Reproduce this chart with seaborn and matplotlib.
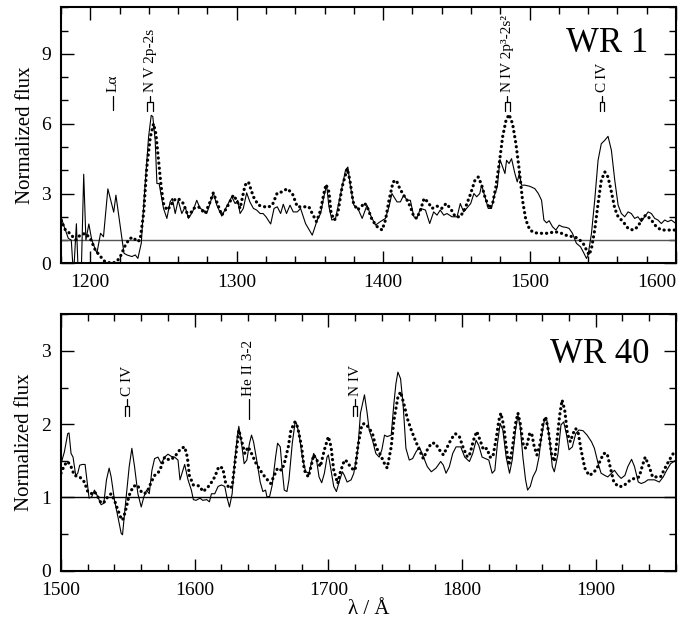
import numpy as np
import pandas as pd
import matplotlib
matplotlib.use("Agg")
import matplotlib.pyplot as plt
from matplotlib.ticker import MultipleLocator
import seaborn as sns

# ---------------- data ----------------
wr1_obs_wave = [1180, 1182, 1185, 1187, 1188, 1189, 1190.5, 1191.5, 1194, 1195.5, 1197, 1199, 1201, 1204.5,
                1207, 1209, 1212, 1216, 1217.5, 1220.5, 1223, 1225, 1228.4, 1230.7, 1232.5, 1234.8, 1237,
                1239.8, 1241.6, 1242.7, 1244.3, 1245.5, 1247, 1250, 1252.3, 1254.5, 1256, 1258, 1260, 1262.5,
                1264.8, 1267, 1269.8, 1272.7, 1275, 1277.3, 1279.5, 1281.8, 1284, 1286.4, 1289.8, 1293, 1296.6,
                1298.9, 1300.7, 1302.3, 1304.5, 1306.8, 1309, 1311.4, 1313.6, 1316, 1318, 1320, 1323.2, 1325.5,
                1327.7, 1330, 1331.8, 1334, 1336.4, 1338.6, 1341.4, 1343.6, 1347, 1351.6, 1355, 1357.3, 1359.5,
                1361.4, 1363, 1365, 1367.5, 1371, 1374.3, 1375.9, 1377.7, 1380, 1382.7, 1385.7, 1389, 1391.4,
                1394.8, 1398, 1401.6, 1404, 1406, 1409.5, 1411.8, 1414, 1416.4, 1418.6, 1421, 1423, 1425.5,
                1428.9, 1431.8, 1434.5, 1436.8, 1439, 1441.4, 1443.6, 1447, 1450.5, 1452.7, 1455, 1459.8, 1462,
                1463.9, 1466, 1467.3, 1469.5, 1471.8, 1474, 1475.7, 1478, 1479.8, 1481.6, 1483.2, 1484.3, 1486,
                1487.7, 1490, 1491.6, 1493, 1494.5, 1496.8, 1500.2, 1503.6, 1506, 1508.2, 1509.8, 1511.6, 1513.4,
                1515.7, 1518, 1520.2, 1522.5, 1525.2, 1527, 1529.3, 1532, 1534.8, 1536.6, 1538.9, 1540, 1542.3,
                1544.5, 1546.8, 1549, 1551.4, 1553.6, 1555.9, 1558.2, 1560.5, 1562.7, 1565, 1567.3, 1569.5,
                1571.8, 1574, 1576.4, 1578.6, 1581, 1583.2, 1585.5, 1587.7, 1590, 1592.3, 1594.5, 1596.8, 1600]
wr1_obs_flux = [2.0, 1.6, 1.07, 1.0, 0.0, 0.0, 1.7, 0.0, 0.0, 3.83, 1.0, 1.69, 1.0, 0.43,
                1.29, 1.14, 3.2, 2.2, 2.93, 1.57, 0.43, 0.36, 0.29, 0.36, 0.21, 0.86, 3.0,
                5.43, 6.36, 6.31, 5.29, 3.43, 3.43, 2.36, 1.93, 2.64, 2.79, 2.14, 2.71, 2.14,
                2.43, 1.93, 2.2, 2.71, 2.36, 2.29, 2.14, 2.57, 3.03, 2.5, 2.03, 2.43, 2.86,
                2.57, 2.71, 2.14, 2.36, 3.03, 2.64, 2.36, 2.29, 2.14, 2.14, 2.0, 1.69, 2.36,
                2.43, 2.14, 2.54, 2.14, 2.5, 2.21, 2.21, 2.36, 1.71, 1.21, 1.86, 2.14, 2.86,
                3.36, 2.43, 1.86, 1.93, 3.0, 4.0, 4.14, 3.29, 2.5, 2.36, 1.93, 2.5, 2.07,
                1.64, 1.79, 1.93, 2.43, 3.0, 2.64, 2.64, 2.93, 2.71, 2.71, 2.0, 1.93, 2.36,
                2.29, 1.71, 2.21, 2.07, 2.29, 2.07, 2.14, 2.0, 2.0, 2.57, 2.21, 2.57, 3.0,
                2.86, 3.0, 3.36, 2.86, 2.36, 2.36, 2.86, 3.29, 4.46, 4.14, 3.86, 4.43, 4.29,
                4.5, 3.86, 3.5, 3.86, 3.36, 3.36, 3.31, 3.21, 3.0, 2.71, 1.86, 1.74, 1.83,
                1.57, 1.43, 1.64, 1.57, 1.54, 1.5, 1.29, 0.86, 0.71, 0.5, 0.21, 0.36, 1.29,
                2.71, 4.43, 5.14, 5.29, 5.46, 4.86, 3.57, 2.5, 2.14, 2.0, 2.21, 2.14,
                1.93, 2.0, 1.79, 2.0, 2.21, 2.14, 1.93, 1.86, 1.71, 1.86, 1.79, 1.86, 1.71]

wr1_mod_wave = [1180, 1183, 1186, 1190, 1193, 1196.6, 1200, 1203.4, 1207, 1210, 1214.8, 1218, 1220.5, 1224,
                1227, 1229.5, 1231.8, 1234, 1236.4, 1238.6, 1241, 1243.2, 1244.8, 1246.6, 1248.4, 1250, 1252.3,
                1254.5, 1256.8, 1260, 1263.6, 1267, 1270.5, 1273.9, 1278.4, 1281.8, 1284, 1286.4, 1289.8, 1293,
                1297.7, 1300, 1302.3, 1305.7, 1308, 1311.4, 1314.8, 1319, 1321, 1324.3, 1327.7, 1331, 1334.5,
                1338, 1341.4, 1346, 1349.3, 1351.6, 1354.5, 1357.3, 1359.5, 1361, 1363, 1364.5, 1366.8, 1369,
                1372, 1375.5, 1377.3, 1379.5, 1382.3, 1385, 1387.3, 1389.5, 1392.5, 1396, 1399.3, 1401.6, 1404,
                1406.8, 1409, 1411.4, 1414, 1416.4, 1418.6, 1421, 1423, 1425.5, 1428, 1430.5, 1433.4, 1436.8,
                1440, 1443, 1446, 1449.3, 1452.7, 1456, 1459.8, 1462.7, 1465, 1467.3, 1469.5, 1472.5, 1474.8,
                1477, 1479.3, 1481.6, 1483.9, 1486, 1488.4, 1490.7, 1493, 1495.2, 1497.5, 1500.2, 1503.6,
                1508.2, 1512.7, 1517.3, 1521.8, 1526.4, 1531, 1534.3, 1536.6, 1538.9, 1540.7, 1542.3, 1544.5,
                1546.8, 1549, 1551.4, 1553.6, 1555.9, 1558.2, 1560.5, 1563.9, 1567.3, 1570.7, 1574, 1577.5,
                1579.8, 1583.2, 1586.6, 1590, 1593.4, 1600]
wr1_mod_flux = [1.86, 1.43, 1.29, 1.0, 1.21, 1.29, 1.07, 0.57, 0.29, 0.07, 0.0, 0.07, 0.29, 0.79,
                1.07, 1.11, 0.93, 1.0, 2.14, 4.14, 5.43, 6.0, 5.57, 4.43, 3.29, 2.57, 2.29,
                2.43, 2.71, 2.79, 2.57, 2.0, 2.36, 2.43, 2.14, 2.64, 3.03, 2.64, 2.07, 2.36,
                2.93, 2.71, 2.36, 3.36, 3.5, 2.86, 2.5, 2.43, 2.4, 2.5, 3.03, 3.07, 3.21,
                3.0, 2.43, 2.43, 2.43, 2.14, 1.79, 2.29, 3.0, 3.39, 3.07, 2.14, 1.86, 2.14,
                3.29, 4.07, 3.57, 2.64, 2.29, 2.43, 2.6, 2.36, 1.86, 1.57, 1.43, 1.86, 2.71,
                3.5, 3.57, 3.21, 2.93, 2.71, 2.43, 2.0, 1.93, 2.29, 2.79, 2.64, 2.36, 2.46,
                2.36, 2.57, 2.36, 2.0, 2.0, 2.36, 3.0, 3.57, 3.71, 3.36, 2.86, 2.36, 2.57,
                3.29, 4.29, 5.43, 6.14, 6.4, 6.0, 5.14, 4.0, 2.71, 1.86, 1.43, 1.31,
                1.29, 1.29, 1.36, 1.29, 1.17, 1.14, 1.0, 0.86, 0.57, 0.36, 0.64, 1.43,
                2.57, 3.57, 3.93, 3.71, 3.07, 2.36, 2.0, 1.79, 1.5, 1.43, 1.57, 2.0,
                2.07, 1.86, 1.57, 1.43, 1.43, 1.43]

wr40_obs_wave = [1500, 1502.5, 1505, 1506, 1507.5, 1509, 1511, 1512.5, 1514, 1516, 1518, 1520, 1521, 1523,
                 1525, 1527.5, 1530, 1532, 1534, 1536, 1537.5, 1540, 1542.5, 1545, 1546, 1548, 1551, 1553,
                 1555, 1557.5, 1560, 1562, 1564, 1566, 1568, 1570, 1572.5, 1575, 1577.5, 1580, 1582.5, 1585,
                 1587.5, 1589, 1592.5, 1595, 1597.5, 1599, 1601, 1604, 1606, 1609, 1611, 1612.5, 1615, 1617.5,
                 1620, 1622.5, 1624, 1626, 1628, 1630, 1632, 1633, 1635, 1637, 1639, 1641, 1642.5, 1644, 1646,
                 1649, 1651, 1653, 1654, 1656, 1658, 1660.5, 1662, 1664, 1665.5, 1667, 1669, 1670.5, 1673,
                 1675, 1676, 1678, 1680.5, 1683, 1685.5, 1688, 1689, 1691, 1693, 1695, 1697, 1699, 1700, 1702,
                 1704, 1706, 1708, 1710.5, 1712, 1714, 1717, 1719, 1722, 1724, 1727, 1729, 1730.5, 1733,
                 1735.5, 1738, 1740, 1742, 1744, 1747, 1749, 1750.5, 1752, 1754, 1756, 1758, 1760.5, 1763,
                 1765.5, 1768, 1770.5, 1774, 1777, 1780.5, 1784, 1786, 1788, 1790.5, 1793, 1795.5, 1799, 1802,
                 1805.5, 1808, 1810.5, 1812.5, 1815, 1817.5, 1820, 1822.5, 1824.5, 1826.5, 1828.5, 1830.5,
                 1833, 1835.5, 1837.5, 1840, 1841.8, 1843.5, 1845.5, 1847.5, 1849, 1851, 1853, 1855.5, 1857.5,
                 1859, 1861.8, 1863.5, 1865.5, 1867.5, 1869, 1871.8, 1874, 1876, 1878, 1880, 1882.5, 1885,
                 1887.5, 1890.5, 1893.5, 1896.8, 1899, 1901.8, 1904, 1906.8, 1909, 1911.8, 1914, 1916.8, 1919,
                 1921.8, 1924, 1926.8, 1929, 1931.8, 1934, 1936.8, 1939, 1941.8, 1944, 1947.5, 1950.5, 1953,
                 1956, 1960]
wr40_obs_flux = [1.46, 1.62, 1.87, 1.88, 1.6, 1.55, 1.3, 1.33, 1.44, 1.45, 1.45, 1.15, 0.99, 1.01,
                 1.1, 1.01, 0.9, 0.92, 1.24, 1.4, 1.28, 0.96, 0.74, 0.51, 0.49, 0.87, 1.42, 1.67,
                 1.42, 1.05, 0.87, 1.01, 1.1, 1.05, 1.37, 1.53, 1.55, 1.46, 1.55, 1.59, 1.56, 1.55,
                 1.51, 1.24, 1.45, 1.24, 1.1, 0.97, 0.96, 0.99, 0.96, 0.97, 0.94, 1.05, 1.05, 1.15,
                 1.17, 1.15, 1.01, 0.87, 1.05, 1.51, 1.85, 1.97, 1.74, 1.46, 1.51, 1.74, 1.85, 1.76, 1.55,
                 1.21, 1.08, 1.1, 1.01, 1.01, 1.17, 1.55, 1.74, 1.69, 1.37, 1.1, 1.08, 1.24, 1.74,
                 2.01, 2.02, 1.87, 1.55, 1.35, 1.33, 1.53, 1.6, 1.53, 1.28, 1.2, 1.33, 1.55, 1.58, 1.37,
                 1.15, 1.08, 1.21, 1.35, 1.3, 1.21, 1.24, 1.33, 1.65, 2.15, 2.4, 2.15, 1.92, 1.78,
                 1.6, 1.55, 1.65, 1.85, 1.83, 1.85, 2.28, 2.55, 2.71, 2.62, 2.24, 1.67, 1.51, 1.53,
                 1.62, 1.69, 1.58, 1.42, 1.35, 1.4, 1.49, 1.44, 1.33, 1.42, 1.6, 1.69, 1.69, 1.55,
                 1.49, 1.6, 1.78, 1.71, 1.55, 1.53, 1.51, 1.33, 1.37, 1.74, 2.01, 1.92,
                 1.55, 1.33, 1.51, 1.92, 2.12, 1.96, 1.55, 1.24, 1.1, 1.15, 1.28, 1.37, 1.55,
                 1.78, 2.08, 2.05, 1.78, 1.42, 1.35, 1.6, 1.99, 2.03, 1.87, 1.65, 1.69, 1.87,
                 1.92, 1.91, 1.85, 1.76, 1.67, 1.46, 1.33, 1.3, 1.28, 1.33, 1.37, 1.3, 1.26,
                 1.3, 1.42, 1.52, 1.42, 1.21, 1.19, 1.21, 1.24, 1.24, 1.24, 1.21, 1.28, 1.37,
                 1.46, 1.51]

wr40_mod_wave = [1500, 1502.5, 1505, 1507.5, 1510, 1514, 1517.5, 1520, 1522.5, 1525, 1527.5, 1530, 1532.5,
                 1535, 1537.5, 1540, 1542.5, 1545, 1546, 1548, 1551, 1554, 1557, 1560, 1562.5, 1565, 1567.5,
                 1570, 1572.5, 1575, 1577.5, 1581, 1585, 1587.5, 1590, 1592.5, 1594.5, 1596, 1599, 1601, 1604,
                 1606, 1609, 1612, 1615, 1618, 1621, 1623, 1626, 1628, 1630, 1632, 1633, 1635, 1637.5, 1640,
                 1642.5, 1646, 1649, 1652.5, 1656.8, 1659, 1662, 1665, 1667, 1670, 1672, 1675, 1677, 1680,
                 1682, 1685, 1687, 1689, 1692, 1694, 1697, 1700, 1702, 1704, 1707, 1709, 1712, 1714, 1717,
                 1720, 1722, 1725, 1727, 1730, 1733, 1735.5, 1739, 1742, 1744, 1747, 1749, 1752, 1754, 1757,
                 1759, 1762, 1765, 1768, 1771, 1774, 1777, 1780, 1783, 1786, 1789, 1792, 1795, 1798, 1801,
                 1804, 1806, 1808.5, 1811, 1813.5, 1816, 1818.5, 1821, 1823, 1825.5, 1827.5, 1829, 1831, 1833,
                 1835, 1837.5, 1840, 1841.8, 1843.5, 1846, 1848, 1850.5, 1852, 1854, 1856, 1858.5, 1860.5,
                 1862.5, 1864.5, 1866.8, 1869, 1871, 1873, 1874.8, 1876.8, 1878.8, 1881, 1883, 1885, 1887,
                 1889, 1891.8, 1895, 1898, 1901, 1903.5, 1906, 1908.5, 1911, 1913.5, 1916.8, 1920, 1923, 1926,
                 1929, 1932.5, 1935, 1937, 1940, 1942.5, 1948.5, 1951.8, 1955, 1958, 1960]
wr40_mod_flux = [1.33, 1.44, 1.49, 1.42, 1.3, 1.28, 1.21, 1.08, 1.05, 1.08, 1.01, 0.92, 0.94,
                 1.01, 1.05, 0.96, 0.83, 0.71, 0.69, 0.8, 1.03, 1.15, 1.17, 1.08, 1.05, 1.1, 1.21,
                 1.3, 1.33, 1.42, 1.55, 1.51, 1.55, 1.62, 1.67, 1.69, 1.55, 1.3, 1.17, 1.17, 1.15,
                 1.08, 1.12, 1.19, 1.28, 1.42, 1.4, 1.21, 1.12, 1.15, 1.46, 1.78, 1.92, 1.78, 1.6, 1.69,
                 1.6, 1.46, 1.37, 1.28, 1.19, 1.28, 1.4, 1.37, 1.46, 1.69, 1.92, 2.03, 1.96, 1.69,
                 1.37, 1.28, 1.42, 1.58, 1.49, 1.42, 1.65, 1.83, 1.69, 1.37, 1.19, 1.35, 1.51, 1.49, 1.4,
                 1.37, 1.69, 1.99, 2.01, 1.96, 1.87, 1.69, 1.58, 1.46, 1.4, 1.69, 2.05, 2.37, 2.44, 2.24,
                 2.08, 1.92, 1.78, 1.65, 1.53, 1.65, 1.74, 1.74, 1.65, 1.58, 1.69, 1.8, 1.87, 1.83, 1.67,
                 1.55, 1.6, 1.78, 1.9, 1.78, 1.65, 1.67, 1.55, 1.55, 1.8, 2.05, 2.15, 1.99, 1.69,
                 1.44, 1.65, 2.01, 2.15, 2.01, 1.69, 1.67, 1.87, 1.88, 1.69, 1.58, 1.74, 2.01,
                 2.1, 1.92, 1.6, 1.49, 1.78, 2.12, 2.33, 2.19, 1.87, 1.76, 1.87, 1.94, 1.87,
                 1.65, 1.4, 1.3, 1.33, 1.4, 1.51, 1.6, 1.6, 1.4, 1.21, 1.15, 1.15, 1.19, 1.24,
                 1.26, 1.28, 1.44, 1.55, 1.42, 1.28, 1.28, 1.4, 1.51, 1.6, 1.58]

# line identifications: label, wavelengths (doublet -> bracket)
wr1_ids = [("Lα", [1215.7]), ("N V 2p-2s", [1238.8, 1242.8]),
           ("N\u2009IV 2p³-2s²", [1483.3, 1486.5]), ("C\u2009IV", [1548.2, 1550.8])]
wr40_ids = [("C IV", [1548.2, 1550.8]), ("He II 3-2", [1640.4]), ("N IV", [1718.5, 1721.5])]

# ---------------- style ----------------
sns.set_style("ticks")
plt.rcParams["font.family"] = ["Liberation Serif", "DejaVu Serif"]
plt.rcParams["text.color"] = "black"
plt.rcParams["axes.labelcolor"] = "black"
plt.rcParams["xtick.color"] = "black"
plt.rcParams["ytick.color"] = "black"
plt.rcParams["xtick.labelcolor"] = "black"
plt.rcParams["ytick.labelcolor"] = "black"

fig = plt.figure(figsize=(6.81, 6.21), dpi=100)
ax1 = fig.add_axes([0.0896, 0.576, 0.903, 0.412])
ax2 = fig.add_axes([0.0896, 0.081, 0.903, 0.413])

DOT = dict(color="black", lw=2.3, linestyle=(0, (0.05, 1.55)), dash_capstyle="round")
SOLID = dict(color="black", lw=0.8)


def draw_panel(ax, ow, of, mw, mf, xlim, ylim, ymaj, ymin, xmaj, xmin, line_color):
    ax.axhline(1.0, color=line_color, lw=1.0, zorder=1)
    sns.lineplot(x=ow, y=of, ax=ax, sort=False, estimator=None, **SOLID)
    sns.lineplot(x=mw, y=mf, ax=ax, sort=False, estimator=None, **DOT)
    ax.set_xlim(*xlim)
    ax.set_ylim(*ylim)
    ax.xaxis.set_major_locator(MultipleLocator(xmaj))
    ax.xaxis.set_minor_locator(MultipleLocator(xmin))
    ax.yaxis.set_major_locator(MultipleLocator(ymaj))
    ax.yaxis.set_minor_locator(MultipleLocator(ymin))
    ax.tick_params(which="both", direction="in", top=True, right=True, labelsize=14,
                   width=1.0, color="black", labelcolor="black")
    ax.tick_params(which="major", length=9)
    ax.tick_params(axis="x", which="major", pad=8)
    ax.tick_params(axis="y", which="major", pad=7)
    ax.tick_params(which="minor", length=5)
    for s in ax.spines.values():
        s.set_linewidth(1.5)
        s.set_color("black")
    ax.set_ylabel("Normalized flux", fontsize=15, labelpad=5)
    ax.set_xlabel("")


def draw_ids(ax, ids, y_top, stem, leg, single, text_gap, fs=11):
    for label, waves in ids:
        if len(waves) == 1:
            w = waves[0]
            ax.plot([w, w], [y_top - single, y_top], color="black", lw=0.9)
            xt = w
        else:
            w0, w1 = waves
            xc = 0.5 * (w0 + w1)
            ax.plot([xc, xc], [y_top - stem, y_top], color="black", lw=0.9)
            ax.plot([w0, w0, w1, w1], [y_top - stem - leg, y_top - stem, y_top - stem, y_top - stem - leg],
                    color="black", lw=0.9)
            xt = xc
        ax.text(xt, y_top + text_gap, label, rotation=90, ha="center", va="bottom",
                fontsize=fs, color="black")


draw_panel(ax1, wr1_obs_wave, wr1_obs_flux, wr1_mod_wave, wr1_mod_flux,
           (1180, 1600), (0, 11), 3, 1, 100, 20, "#555555")
draw_panel(ax2, wr40_obs_wave, wr40_obs_flux, wr40_mod_wave, wr40_mod_flux,
           (1500, 1960), (0, 3.5), 1, 0.5, 100, 20, "black")

draw_ids(ax1, wr1_ids, 7.2, 0.28, 0.36, 0.6, 0.15)
draw_ids(ax2, wr40_ids, 2.34, 0.09, 0.14, 0.27, 0.05)

ax1.text(1581, 9.1, "WR 1", fontsize=25, ha="right", va="baseline")
ax2.text(1940, 2.83, "WR 40", fontsize=25, ha="right", va="baseline")

ax2.set_xlabel("λ / Å", fontsize=15, labelpad=1)

# keep the last tick label of the top panel inside the figure
fig.canvas.draw()
for t in ax1.get_xticklabels():
    if t.get_text() == "1600":
        t.set_horizontalalignment("right")

fig.savefig("out.png", dpi=100)
